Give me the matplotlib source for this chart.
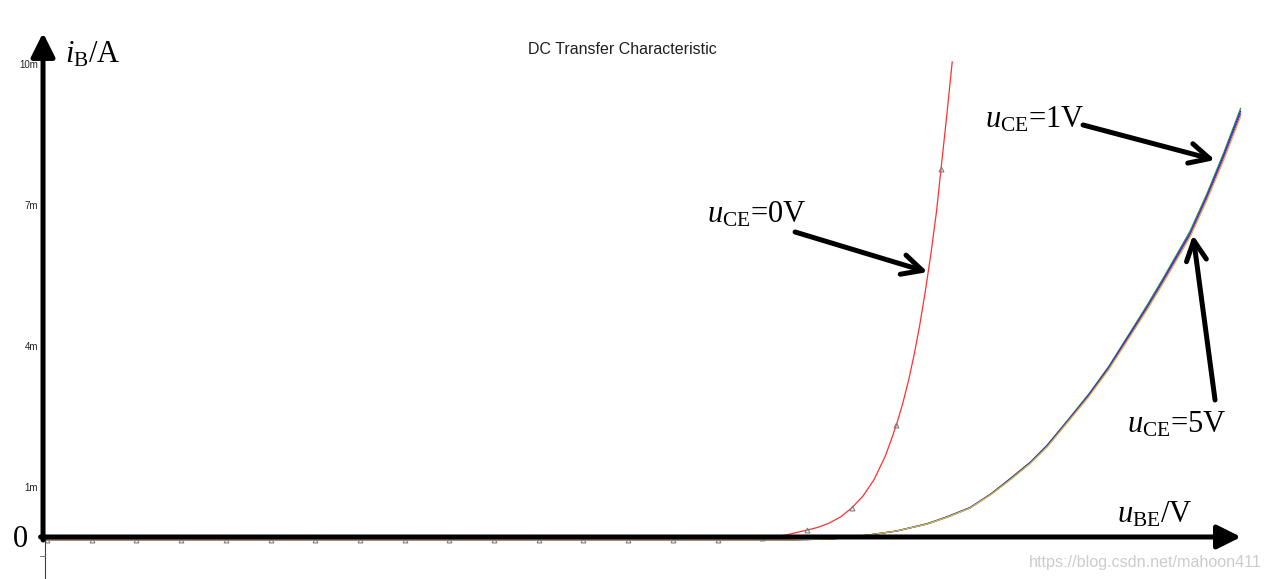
import matplotlib.pyplot as plt

plt.rcParams['mathtext.fontset'] = 'custom'
plt.rcParams['mathtext.rm'] = 'Liberation Serif'
plt.rcParams['mathtext.it'] = 'Liberation Serif:italic'

# u_CE = 0V trace (u_BE in V, i_B in mA)
red_v = [0.0, 0.60, 0.62, 0.64, 0.66, 0.68, 0.69, 0.70, 0.71, 0.72, 0.73, 0.74, 0.75, 0.755,
         0.761, 0.766, 0.771, 0.776, 0.781, 0.786, 0.791, 0.796, 0.80, 0.805, 0.81]
red_i = [0.0, 0.0, 0.02, 0.05, 0.10, 0.21, 0.27, 0.36, 0.49, 0.68, 0.93, 1.28, 1.78, 2.10,
         2.52, 2.93, 3.40, 3.95, 4.58, 5.30, 6.10, 7.00, 7.90, 9.00, 10.17]

# sweep points shown with markers on the red trace
step_v = [0.00, 0.04, 0.08, 0.12, 0.16, 0.20, 0.24, 0.28, 0.32, 0.36, 0.40,
          0.44, 0.48, 0.52, 0.56, 0.60, 0.64, 0.68, 0.72, 0.76, 0.80]
step_i = [0, 0, 0, 0, 0, 0, 0, 0, 0, 0, 0, 0, 0, 0, 0, 0, 0.05, 0.21, 0.68, 2.45, 7.90]

# u_CE = 1V ... 5V traces, nearly on top of each other
ce_v = [0.0, 0.66, 0.70, 0.72, 0.7365, 0.76, 0.7875, 0.805, 0.826, 0.845, 0.862, 0.88,
        0.895, 0.915, 0.932, 0.95, 0.969, 0.985, 0.999, 1.012, 1.023, 1.038, 1.053, 1.068]
green_i = [0, 0, 0.02, 0.06, 0.11, 0.19, 0.35, 0.49, 0.69, 0.99, 1.31, 1.66,
           2.02, 2.60, 3.10, 3.69, 4.41, 5.02, 5.58, 6.12, 6.58, 7.37, 8.24, 9.18]
blue_i = [0, 0, 0.02, 0.06, 0.11, 0.19, 0.34, 0.49, 0.69, 0.98, 1.30, 1.65,
          2.01, 2.58, 3.08, 3.67, 4.38, 4.98, 5.54, 6.08, 6.53, 7.32, 8.19, 9.12]
purple_i = [0, 0, 0.02, 0.06, 0.11, 0.19, 0.34, 0.48, 0.68, 0.98, 1.29, 1.64,
            1.99, 2.57, 3.06, 3.65, 4.35, 4.95, 5.51, 6.04, 6.50, 7.28, 8.14, 9.06]
yellow_i = [0, 0, 0.02, 0.06, 0.11, 0.19, 0.34, 0.48, 0.68, 0.97, 1.28, 1.63,
            1.98, 2.55, 3.04, 3.62, 4.32, 4.92, 5.47, 6.00, 6.45, 7.23, 8.08, 9.00]

ytick_vals = [1, 4, 7, 10]
ytick_labels = ['1m', '4m', '7m', '10m']

fig = plt.figure(figsize=(12.67, 5.79), dpi=100)
ax = fig.add_axes([0, 0, 1, 1])
ax.set_xlim(-0.0421, 1.0917)
ax.set_ylim(-0.830, 11.489)
ax.axis('off')

# traces (red first so the others sit on top along zero)
ax.plot(red_v, red_i, color='#ff3030', lw=0.9)
ax.plot(ce_v, green_i, color='#20a020', lw=0.9)
ax.plot(ce_v, blue_i, color='#2020ff', lw=0.9)
ax.plot(ce_v, purple_i, color='#a020c0', lw=0.9)
ax.plot(ce_v, yellow_i, color='#c8c040', lw=0.9)
ax.plot(step_v, step_i, ls='none', marker='^', ms=3.5, mfc='none', mec='#808080', mew=0.8)

# old axis line below origin
ax.plot([-0.0018, -0.0018], [0.06, -0.830], color='#404040', lw=0.8)
ax.plot([-0.006, -0.0018], [-0.34, -0.34], color='#606060', lw=0.6)

# thick axis arrows
axis_kw = dict(arrowstyle='-|>', lw=3.6, color='k', mutation_scale=36,
               shrinkA=0, shrinkB=0)
ax.annotate('', xy=(-0.0036, 10.79), xytext=(-0.0036, 0.0), arrowprops=axis_kw)
ax.annotate('', xy=(1.0685, 0.064), xytext=(-0.0058, 0.064), arrowprops=axis_kw)

# y tick labels
for val, lab in zip(ytick_vals, ytick_labels):
    ax.text(-0.008, val + 0.1, lab, ha='right', va='center', fontsize=7,
            family='Liberation Sans', color='#202020')

ax.text(0.5145, 10.426, 'DC Transfer Characteristic', ha='center', va='center',
        fontsize=11.5, family='Liberation Sans', color='#202020')

serif = 'Liberation Serif'
ax.text(0.0161, 10.149, r'$i_{\mathrm{B}}/\mathrm{A}$', fontsize=22, va='baseline')
ax.text(0.9575, 0.362, r'$u_{\mathrm{BE}}/\mathrm{V}$', fontsize=22, va='baseline')
ax.text(-0.0242, 0.0, '0', fontsize=22, family=serif, ha='center', va='center')
ax.text(0.5906, 6.745, r'$u_{\mathrm{CE}}$=0V', fontsize=22, family=serif, va='baseline')
ax.text(0.8394, 8.766, r'$u_{\mathrm{CE}}$=1V', fontsize=22, family=serif, va='baseline')
ax.text(0.9664, 2.277, r'$u_{\mathrm{CE}}$=5V', fontsize=22, family=serif, va='baseline')

# pointer arrows
arrow_kw = dict(arrowstyle='->', lw=3.6, color='k', mutation_scale=36,
                shrinkA=0, shrinkB=0)
ax.annotate('', xy=(0.788, 5.70), xytext=(0.6694, 6.553), arrowprops=arrow_kw)
ax.annotate('', xy=(1.0452, 8.085), xytext=(0.9271, 8.830), arrowprops=arrow_kw)
ax.annotate('', xy=(1.0255, 6.489), xytext=(1.0452, 2.979), arrowprops=arrow_kw)

ax.text(1.0873, -0.489, 'https://blog.csdn.net/mahoon411', ha='right', va='center',
        fontsize=11.6, family='Liberation Sans', color='#cccccc')

fig.savefig('out.png', dpi=100)
